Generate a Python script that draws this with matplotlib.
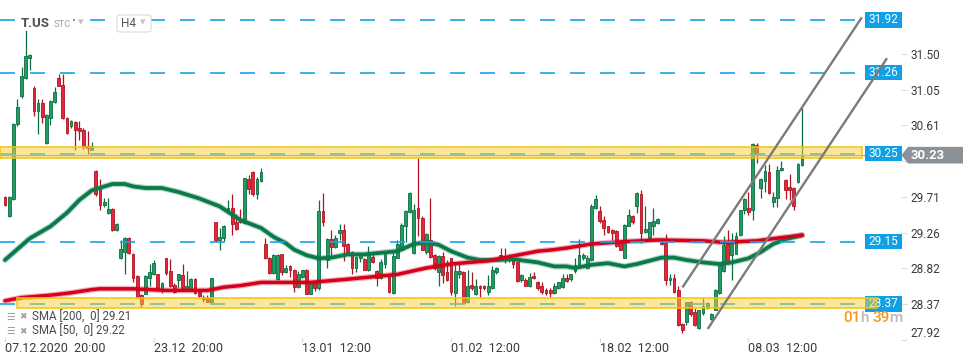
import matplotlib.pyplot as plt
from matplotlib.patches import Rectangle, Polygon, FancyBboxPatch
from matplotlib.transforms import blended_transform_factory

plt.rcParams['font.family'] = ['Roboto', 'DejaVu Sans']
plt.rcParams['lines.scale_dashes'] = False

# T.US H4 candles
opens = [29.71, 29.47, 29.68, 30.62, 30.97, 31.19, 31.45, 31.07, 30.78, 30.88,
         30.38, 30.70, 30.89, 31.20, 31.11, 30.70, 30.60, 30.64, 30.57, 30.55,
         30.35, 30.30, 30.03, 29.81, 29.61, 29.51, 29.56, 29.29, 28.94, 29.02,
         29.20, 29.00, 28.72, 28.48, 28.50, 28.70, 28.74, 28.74, 28.56, 28.94,
         28.78, 28.61, 28.67, 28.73, 28.54, 28.55, 28.68, 28.52, 28.46, 28.44,
         28.40, 29.39, 29.17, 29.20, 29.52, 29.57, 29.39, 29.43, 29.38, 29.93,
         30.02, 29.74, 29.91, 29.12, 28.95, 28.76, 28.68, 28.99, 28.77, 28.85,
         28.80, 28.58, 28.71, 28.80, 28.50, 28.65, 28.57, 29.53, 28.92, 29.18,
         29.08, 29.26, 29.30, 29.12, 29.02, 28.82, 28.94, 28.93, 28.79, 28.96,
         28.78, 28.69, 28.87, 28.73, 28.51, 28.95, 29.05, 29.35, 29.52, 29.01,
         29.57, 29.44, 29.02, 29.17, 28.98, 28.77, 28.97, 28.77, 28.94, 28.51,
         28.74, 28.77, 28.39, 28.61, 28.49, 28.60, 28.60, 28.52, 28.57, 28.77,
         28.98, 28.96, 28.94, 28.92, 28.89, 28.67, 28.67, 28.59, 28.72, 28.64,
         28.60, 28.55, 28.55, 28.51, 28.57, 28.58, 28.69, 28.68, 28.78, 28.84,
         28.95, 28.82, 28.92, 29.57, 29.53, 29.42, 29.34, 29.30, 29.28, 29.13,
         28.95, 29.35, 29.47, 29.59, 29.74, 29.27, 29.20, 29.35, 29.38, 29.15,
         29.13, 28.67, 28.69, 28.55, 28.12, 28.14, 28.40, 28.27, 28.07, 28.26,
         28.32, 28.18, 28.30, 28.51, 28.78, 29.12, 28.98, 29.00, 29.23, 29.54,
         29.57, 29.55, 30.36, 29.82, 29.91, 30.02, 29.64, 29.69, 30.04, 29.92,
         29.83, 29.82, 29.89, 30.11]
highs = [29.72, 29.72, 30.63, 30.93, 31.33, 31.80, 31.49, 31.09, 30.93, 30.93,
         30.74, 30.92, 31.08, 31.25, 31.25, 30.71, 30.67, 30.66, 30.66, 30.57,
         30.53, 30.40, 30.04, 29.93, 29.70, 29.69, 29.57, 29.38, 29.17, 29.21,
         29.21, 29.01, 28.73, 28.49, 28.73, 28.87, 28.92, 28.75, 28.64, 28.95,
         28.93, 28.63, 28.75, 28.87, 28.78, 28.69, 28.69, 28.53, 28.48, 28.48,
         28.70, 29.40, 29.32, 29.36, 29.67, 29.74, 29.50, 29.56, 29.95, 29.98,
         30.03, 29.96, 30.07, 29.20, 28.96, 29.00, 28.99, 29.00, 28.86, 28.86,
         28.81, 28.78, 28.80, 28.81, 28.66, 28.66, 29.67, 29.76, 29.19, 29.29,
         29.23, 29.37, 29.37, 29.13, 29.03, 28.97, 28.99, 28.94, 29.09, 29.00,
         28.79, 28.93, 29.03, 28.74, 29.05, 29.17, 29.38, 29.54, 29.77, 29.62,
         30.19, 29.47, 29.26, 29.70, 28.99, 28.98, 29.02, 28.92, 28.95, 28.90,
         28.90, 28.78, 28.80, 28.77, 28.68, 28.61, 28.61, 28.73, 28.84, 28.83,
         29.07, 29.07, 29.00, 28.94, 28.90, 28.74, 28.70, 28.76, 28.77, 28.66,
         28.65, 28.57, 28.57, 28.63, 28.65, 28.75, 28.75, 28.75, 28.95, 29.18,
         29.01, 28.98, 29.62, 29.73, 29.59, 29.47, 29.35, 29.31, 29.29, 29.17,
         29.37, 29.56, 29.48, 29.77, 29.80, 29.60, 29.40, 29.57, 29.44, 29.17,
         29.25, 28.75, 28.75, 28.60, 28.13, 28.40, 28.41, 28.32, 28.30, 28.45,
         28.40, 28.26, 28.56, 28.89, 29.22, 29.30, 29.26, 29.27, 29.55, 29.69,
         29.77, 30.38, 30.38, 29.94, 30.11, 30.12, 29.77, 30.09, 30.16, 29.93,
         29.99, 29.83, 30.13, 30.82]
lows = [29.60, 29.46, 29.67, 30.60, 30.95, 31.18, 31.29, 30.72, 30.50, 30.63,
        30.37, 30.61, 30.88, 31.09, 30.68, 30.50, 30.57, 30.29, 30.42, 30.31,
        30.24, 30.29, 29.72, 29.54, 29.58, 29.50, 29.28, 29.28, 28.93, 28.75,
        29.00, 28.65, 28.44, 28.33, 28.49, 28.60, 28.73, 28.56, 28.51, 28.73,
        28.58, 28.51, 28.57, 28.53, 28.53, 28.54, 28.50, 28.46, 28.40, 28.39,
        28.39, 29.14, 29.04, 29.16, 29.51, 29.23, 29.30, 29.38, 29.37, 29.75,
        29.72, 29.68, 29.90, 28.93, 28.75, 28.75, 28.67, 28.73, 28.76, 28.71,
        28.52, 28.57, 28.70, 28.49, 28.49, 28.53, 28.54, 29.35, 28.82, 28.94,
        29.07, 29.17, 28.91, 28.99, 28.75, 28.77, 28.89, 28.79, 28.78, 28.88,
        28.59, 28.68, 28.82, 28.51, 28.50, 28.94, 29.04, 29.15, 29.51, 29.00,
        29.22, 29.04, 29.00, 28.95, 28.79, 28.59, 28.63, 28.66, 28.48, 28.34,
        28.69, 28.37, 28.38, 28.55, 28.48, 28.46, 28.55, 28.48, 28.56, 28.75,
        28.92, 28.88, 28.90, 28.82, 28.65, 28.64, 28.59, 28.58, 28.68, 28.55,
        28.50, 28.48, 28.46, 28.50, 28.56, 28.57, 28.64, 28.66, 28.76, 28.83,
        28.92, 28.81, 28.91, 29.56, 29.38, 29.23, 29.26, 29.17, 29.08, 29.04,
        28.94, 29.34, 29.37, 29.51, 29.13, 29.26, 29.19, 29.23, 29.37, 29.11,
        28.61, 28.61, 28.51, 28.10, 28.01, 28.11, 28.22, 28.10, 28.06, 28.23,
        28.31, 28.17, 28.29, 28.50, 28.77, 28.87, 28.67, 28.99, 29.22, 29.50,
        29.48, 29.42, 30.13, 29.70, 29.77, 29.75, 29.58, 29.58, 30.03, 29.68,
        29.67, 29.54, 29.88, 30.10]
closes = [29.61, 29.71, 30.62, 30.83, 31.22, 31.47, 31.48, 30.78, 30.88, 30.71,
          30.73, 30.91, 31.02, 31.10, 30.69, 30.51, 30.66, 30.55, 30.53, 30.33,
          30.32, 30.34, 29.74, 29.61, 29.64, 29.56, 29.29, 29.37, 29.06, 29.20,
          29.01, 28.70, 28.46, 28.37, 28.72, 28.77, 28.88, 28.57, 28.63, 28.76,
          28.59, 28.52, 28.74, 28.54, 28.60, 28.68, 28.51, 28.47, 28.43, 28.40,
          28.69, 29.17, 29.21, 29.35, 29.57, 29.37, 29.31, 29.39, 29.94, 29.81,
          29.75, 29.93, 30.02, 28.94, 28.76, 28.98, 28.98, 28.77, 28.82, 28.80,
          28.58, 28.75, 28.79, 28.50, 28.65, 28.57, 29.53, 29.39, 29.18, 29.08,
          29.20, 29.30, 29.10, 29.00, 28.82, 28.96, 28.98, 28.80, 29.01, 28.89,
          28.70, 28.89, 29.02, 28.52, 28.97, 29.12, 29.36, 29.53, 29.76, 29.55,
          29.44, 29.05, 29.25, 28.96, 28.82, 28.97, 28.73, 28.67, 28.52, 28.78,
          28.78, 28.38, 28.60, 28.57, 28.59, 28.57, 28.57, 28.60, 28.80, 28.82,
          28.94, 28.94, 28.97, 28.87, 28.66, 28.73, 28.60, 28.71, 28.69, 28.57,
          28.52, 28.51, 28.51, 28.60, 28.64, 28.69, 28.66, 28.74, 28.86, 28.98,
          28.98, 28.95, 29.60, 29.68, 29.41, 29.32, 29.27, 29.26, 29.09, 29.05,
          29.36, 29.48, 29.40, 29.76, 29.26, 29.31, 29.39, 29.41, 29.43, 29.12,
          28.67, 28.70, 28.52, 28.11, 28.05, 28.39, 28.25, 28.11, 28.29, 28.34,
          28.38, 28.25, 28.55, 28.88, 29.11, 28.88, 29.15, 29.22, 29.54, 29.68,
          29.52, 30.37, 30.23, 29.93, 30.03, 29.76, 29.71, 30.05, 30.07, 29.80,
          29.79, 29.59, 30.12, 30.23]

# moving averages, sampled along the drawn curves (bar index, price)
sma200_idx = [0, 4, 11, 16, 21, 23, 31, 39, 49, 53, 57, 62, 74, 83, 91, 95, 102,
              108, 117, 121, 125, 129, 133, 136, 142, 150, 158, 169, 174, 182, 188, 193]
sma200_val = [28.41, 28.45, 28.48, 28.51, 28.55, 28.56, 28.56, 28.54, 28.54, 28.58,
              28.60, 28.64, 28.64, 28.68, 28.72, 28.74, 28.82, 28.87, 28.91, 28.95,
              28.99, 29.03, 29.05, 29.07, 29.12, 29.15, 29.17, 29.16, 29.14, 29.16,
              29.20, 29.23]
sma50_idx = [0, 6, 11, 15, 18, 21, 26, 29, 31, 34, 38, 42, 47, 52, 57, 62, 65, 68,
             70, 73, 76, 79, 83, 87, 91, 95, 99, 102, 105, 108, 112, 115, 119, 123,
             129, 133, 136, 138, 142, 146, 150, 153, 156, 159, 162, 165, 169, 173,
             176, 180, 183, 186, 189, 193]
sma50_val = [28.92, 29.19, 29.34, 29.51, 29.67, 29.79, 29.87, 29.87, 29.84, 29.82,
             29.82, 29.77, 29.69, 29.59, 29.42, 29.32, 29.21, 29.13, 29.05, 28.98,
             28.94, 28.95, 28.99, 28.99, 29.01, 29.03, 29.12, 29.14, 29.11, 29.03,
             28.95, 28.92, 28.92, 28.93, 28.89, 28.84, 28.84, 28.82, 28.86, 28.88,
             28.84, 28.87, 28.91, 28.95, 28.95, 28.92, 28.89, 28.87, 28.89, 28.94,
             29.02, 29.12, 29.18, 29.23]

levels = [31.92, 31.26, 30.25, 29.15, 28.37]
zone_low = [30.20, 28.32]
zone_high = [30.33, 28.44]
zone_start = [-1.2, 2.9]
zone_end = [207.5, 211.1]
chan_up_x, chan_up_y = [164.2, 207.3], [28.59, 31.94]
chan_lo_x, chan_lo_y = [170.3, 213.4], [28.07, 31.43]
last_price = 30.23

yticks = [27.92, 28.37, 28.82, 29.26, 29.71, 30.16, 30.61, 31.05, 31.50]
date_pos = [0, 36, 72, 108, 144, 180]
date_labels = ['07.12.2020  20:00', '23.12  20:00', '13.01  12:00',
               '01.02  12:00', '18.02  12:00', '08.03  12:00']

W, H = 970, 364
fig = plt.figure(figsize=(W / 100, H / 100), dpi=100)
ax = fig.add_axes([0, (H - 341.6) / H, 901 / W, 341.6 / H])
ax.set_xlim(-1.21, 216.95)
ax.set_ylim(27.90, 32.17)
for s in ax.spines.values():
    s.set_visible(False)


def px(x, y):
    return x / W, 1 - y / H


# candles
up_face, up_edge = '#1f9e62', '#0e6c41'
dn_face, dn_edge = '#e2283a', '#b0131f'
for i, (o, h, l, c) in enumerate(zip(opens, highs, lows, closes)):
    up = c >= o
    ec = up_edge if up else dn_edge
    fc = up_face if up else dn_face
    ax.vlines(i, l, h, color=ec, lw=0.9, zorder=3)
    ax.add_patch(Rectangle((i - 0.34, min(o, c)), 0.68, max(abs(c - o), 0.012),
                           fc=fc, ec=ec, lw=0.6, zorder=3.2))

# moving averages
ax.plot(sma50_idx, sma50_val, color='#0b7a4b', lw=4.4, alpha=0.3, zorder=4,
        solid_capstyle='round')
ax.plot(sma50_idx, sma50_val, color='#0b7a4b', lw=2.7, zorder=4.1,
        solid_capstyle='round', solid_joinstyle='round')
ax.plot(sma200_idx, sma200_val, color='#d5001c', lw=4.2, alpha=0.3, zorder=4,
        solid_capstyle='round')
ax.plot(sma200_idx, sma200_val, color='#d5001c', lw=2.5, zorder=4.1,
        solid_capstyle='round', solid_joinstyle='round')

# level lines
for lv in levels:
    ax.axhline(lv, xmin=0, xmax=860 / 901, color='#19a3e6', lw=1.2,
               dashes=(10.8, 10.8), zorder=4.5)
ax.axhline(last_price, color='#9aa0a4', lw=0.9, zorder=4.4)

# support / resistance zones
for lo, hi, x0, x1 in zip(zone_low, zone_high, zone_start, zone_end):
    ax.add_patch(Rectangle((x0, lo), x1 - x0, hi - lo, fc=(0.97, 0.82, 0.23, 0.5),
                           ec='#f3c411', lw=1.1, zorder=12, clip_on=False))

# channel
ax.plot(chan_up_x, chan_up_y, color='#7b7b7b', lw=1.7, zorder=13, clip_on=False)
ax.plot(chan_lo_x, chan_lo_y, color='#7b7b7b', lw=1.7, zorder=13, clip_on=False)

# axes ticks (30.16 sits under the last-price marker)
ax.yaxis.tick_right()
ax.set_yticks(yticks)
ax.set_yticklabels(['' if v == 30.16 else f'{v:.2f}' for v in yticks])
ax.tick_params(axis='y', direction='out', length=4, width=0.8, color='#dddddd',
               pad=2.5, labelsize=8.5, labelcolor='#3a3a3a')
ax.get_yticklabels()[0].set_va('bottom')
ax.set_xticks(date_pos)
ax.set_xticklabels(date_labels, ha='left')
ax.tick_params(axis='x', direction='in', length=3, width=0.8, color='#d5d5d5',
               pad=0, labelsize=9, labelcolor='#3a3a3a')

# right-hand labels
tr = blended_transform_factory(fig.transFigure, ax.transData)
for lv in levels:
    ax.add_patch(Rectangle((865 / W, lv - 0.094), 36.5 / W, 0.188, fc='#0fa0e6',
                           ec='none', transform=tr, clip_on=False, zorder=10))
    ax.text(883.5 / W, lv, f'{lv:.2f}', transform=tr, ha='center', va='center',
            color='white', fontsize=8.5, zorder=11, clip_on=False)
dy = 0.104
ax.add_patch(Polygon([(901.5 / W, last_price), (908 / W, last_price + dy),
                      (963 / W, last_price + dy), (963 / W, last_price - dy),
                      (908 / W, last_price - dy)], closed=True, fc='#8a9297',
                     ec='none', transform=tr, clip_on=False, zorder=10))
ax.text(911 / W, last_price, f'{last_price:.2f}', transform=tr, ha='left',
        va='center', color='white', fontsize=9.5, fontweight='bold', zorder=11,
        clip_on=False)

# countdown
for x, s, col in [(843.5, '01', '#f59a12'), (860.5, 'h', '#b8b8b8'),
                  (872.5, '39', '#f59a12'), (889, 'm', '#b8b8b8')]:
    fig.text(*px(x, 318.5), s, color=col, fontsize=11, fontweight='medium',
             ha='left', va='center')

# legend rows
for y, s in [(316.7, 'SMA [200,  0] 29.21'), (331.5, 'SMA [50,  0] 29.22')]:
    fig.text(*px(6, y), '☰', color='#a0a0a0', fontsize=7, ha='left', va='center')
    fig.text(*px(19.5, y), '✖', color='#a0a0a0', fontsize=6.5, ha='left', va='center')
    fig.text(*px(31.5, y), s, color='#4a4a4a', fontsize=8.3, ha='left', va='center')

# header
fig.text(*px(21, 23.3), 'T.US', color='#505050', fontsize=9.5, fontweight='bold',
         ha='left', va='center', bbox=dict(fc='white', ec='none', pad=1), zorder=20)
fig.text(*px(54, 24.3), 'STC', color='#a0a0a0', fontsize=6.8, ha='left', va='center',
         bbox=dict(fc='white', ec='none', pad=1), zorder=20)
fig.text(*px(78, 22.5), '▾', color='#c4c4c4', fontsize=8, ha='left', va='center',
         zorder=20)
fig.add_artist(FancyBboxPatch(px(117, 32), 34 / W, 17 / H,
                              boxstyle='round,pad=0,rounding_size=0.004',
                              fc='white', ec='#dcdcdc', lw=0.8,
                              transform=fig.transFigure, zorder=20))
fig.text(*px(121.5, 23.8), 'H4', color='#555555', fontsize=8.5, ha='left',
         va='center', zorder=21)
fig.text(*px(140, 22.5), '▾', color='#c4c4c4', fontsize=8, ha='left', va='center',
         zorder=21)

fig.savefig('out.png', dpi=100)
